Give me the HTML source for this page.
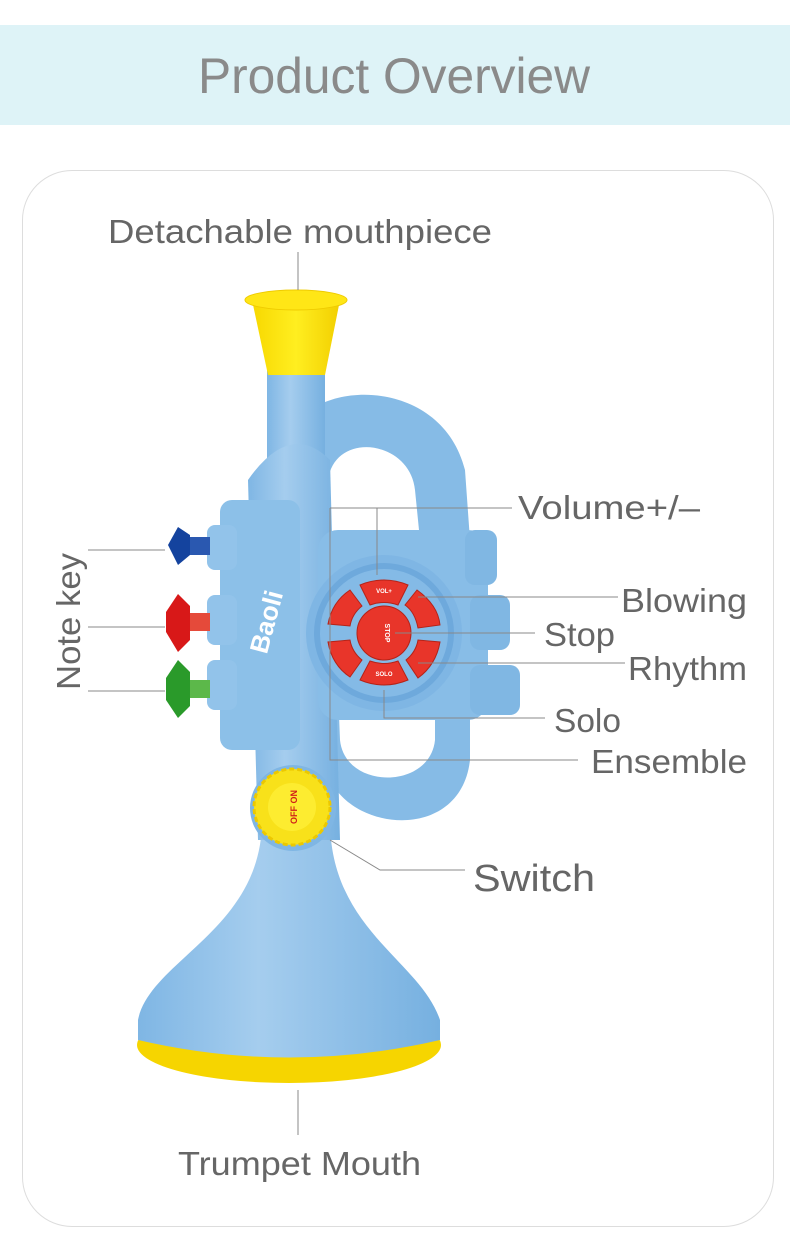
<!DOCTYPE html>
<html><head><meta charset="utf-8"><style>
body{margin:0;width:790px;height:1252px;background:#fff;position:relative;overflow:hidden;font-family:"Liberation Sans",sans-serif;}
.hdr{position:absolute;left:0;top:25px;width:790px;height:100px;background:#def3f7;}
.card{position:absolute;left:22px;top:170px;width:752px;height:1057px;border:1.5px solid #ddd;border-radius:50px;box-sizing:border-box;}
svg{position:absolute;left:0;top:0;}
</style></head><body>
<div class="hdr"></div>
<div class="card"></div>
<svg width="790" height="1252" viewBox="0 0 790 1252" font-family="Liberation Sans, sans-serif">
<defs>
<linearGradient id="bl" x1="0" x2="1"><stop offset="0" stop-color="#7fb6e4"/><stop offset=".4" stop-color="#a5cdee"/><stop offset="1" stop-color="#76b0e0"/></linearGradient>
<linearGradient id="yl" x1="0" x2="1"><stop offset="0" stop-color="#f7d800"/><stop offset=".5" stop-color="#ffee20"/><stop offset="1" stop-color="#f2cf00"/></linearGradient>
</defs>
<text x="198" y="93" font-size="50" fill="#8a8a8a" textLength="392" lengthAdjust="spacingAndGlyphs">Product Overview</text>
<ellipse cx="289" cy="1045" rx="152" ry="38" fill="#f6d500"/>
<path d="M262 820 C262 930 150 960 138 1020 L138 1040 Q289 1075 440 1040 L440 1020 C420 960 330 930 330 820 Z" fill="url(#bl)"/>
<path d="M290 440 C300 380 440 370 465 470 L470 540 L420 540 L415 490 C410 440 335 430 328 480 L325 540 L290 540 Z" fill="#86bbe6"/>
<path d="M320 690 L325 760 C330 830 460 850 470 760 L470 690 L435 690 L435 740 C430 790 345 790 340 740 L338 690 Z" fill="#86bbe6"/>
<rect x="267" y="370" width="58" height="140" fill="url(#bl)"/>
<path d="M248 480 Q290 420 330 460 L340 840 L258 840 Z" fill="url(#bl)"/>
<rect x="220" y="500" width="80" height="250" rx="12" fill="#8cc0e8"/>
<rect x="207" y="525" width="30" height="45" rx="8" fill="#92c3ea"/>
<rect x="207" y="595" width="30" height="50" rx="8" fill="#92c3ea"/>
<rect x="207" y="660" width="30" height="50" rx="8" fill="#92c3ea"/>
<rect x="318" y="530" width="170" height="190" rx="20" fill="#88bde7"/>
<rect x="465" y="530" width="32" height="55" rx="10" fill="#80b7e3"/>
<rect x="470" y="595" width="40" height="55" rx="10" fill="#80b7e3"/>
<rect x="470" y="665" width="50" height="50" rx="10" fill="#80b7e3"/>
<rect x="180" y="537" width="30" height="18" fill="#2a58b0"/>
<path d="M178 527 L168 545 L178 565 L190 555 L190 535 Z" fill="#14439e"/>
<rect x="180" y="613" width="30" height="18" fill="#e54a3a"/>
<path d="M178 594 L166 612 L166 632 L178 652 L190 640 L190 606 Z" fill="#d81818"/>
<rect x="180" y="680" width="30" height="18" fill="#5cb84a"/>
<path d="M178 660 L166 678 L166 700 L178 718 L190 706 L190 672 Z" fill="#2a9a2a"/>
<text x="240" y="660" font-size="26" font-weight="bold" fill="#fff" transform="rotate(-75 250 640)">Baoli</text>
<circle cx="384" cy="633" r="78" fill="#7fb6e4"/>
<circle cx="384" cy="633" r="70" fill="#6ea9dc"/>
<circle cx="384" cy="633" r="64" fill="#84bae6"/>
<g fill="#e8352a" stroke="#b52318" stroke-width="1">
<path d="M360 585 Q384 575 408 585 L398 605 Q384 600 370 605 Z"/>
<path d="M417 590 Q438 605 440 625 L418 628 Q415 612 405 605 Z"/>
<path d="M440 642 Q436 665 418 678 L406 660 Q416 652 418 640 Z"/>
<path d="M360 680 Q384 690 408 680 L398 661 Q384 666 370 661 Z"/>
<path d="M350 677 Q332 665 328 642 L350 640 Q352 652 362 660 Z"/>
<path d="M328 624 Q332 602 350 590 L362 606 Q352 614 350 626 Z"/>
</g>
<circle cx="384" cy="633" r="27" fill="#e8352a" stroke="#b52318"/>
<g fill="#fff" font-size="6" font-weight="bold" text-anchor="middle">
<text x="384" y="593">VOL+</text><text x="384" y="676">SOLO</text>
<text x="386" y="634" transform="rotate(90 386 633)" font-size="7">STOP</text>
</g>
<circle cx="293" cy="808" r="43" fill="#7fb6e4"/>
<circle cx="292" cy="807" r="38" fill="#f8e11a" stroke="#ecc800" stroke-width="3" stroke-dasharray="5 3"/>
<circle cx="292" cy="807" r="24" fill="#fdec30"/>
<text x="292" y="812" font-size="9" font-weight="bold" fill="#d0201a" text-anchor="middle" transform="rotate(-90 292 807)">OFF ON</text>
<path d="M252 300 L268 375 L325 375 L340 300 Z" fill="url(#yl)"/>
<ellipse cx="296" cy="300" rx="51" ry="10" fill="#ffe616" stroke="#efcb00"/>
<g stroke="#888" stroke-width="1" fill="none">
<line x1="298" y1="252" x2="298" y2="290"/>
<line x1="298" y1="1090" x2="298" y2="1135"/>
<line x1="88" y1="550" x2="165" y2="550"/>
<line x1="88" y1="627" x2="165" y2="627"/>
<line x1="88" y1="691" x2="165" y2="691"/>
<polyline points="330,508 330,760 578,760"/>
<polyline points="330,508 512,508"/>
<line x1="377" y1="508" x2="377" y2="575"/>
<line x1="418" y1="597" x2="618" y2="597"/>
<line x1="395" y1="633" x2="535" y2="633"/>
<line x1="418" y1="663" x2="625" y2="663"/>
<polyline points="384,690 384,718 545,718"/>
<polyline points="330,840 380,870 465,870"/>
</g>
<g fill="#666" font-size="33" lengthAdjust="spacingAndGlyphs">
<text x="108" y="243" textLength="384" lengthAdjust="spacingAndGlyphs">Detachable mouthpiece</text>
<text x="518" y="519" textLength="182" lengthAdjust="spacingAndGlyphs">Volume+/–</text>
<text x="621" y="612" textLength="126" lengthAdjust="spacingAndGlyphs">Blowing</text>
<text x="544" y="646" textLength="71" lengthAdjust="spacingAndGlyphs">Stop</text>
<text x="628" y="680" textLength="119" lengthAdjust="spacingAndGlyphs">Rhythm</text>
<text x="554" y="732" textLength="67" lengthAdjust="spacingAndGlyphs">Solo</text>
<text x="591" y="773" textLength="156" lengthAdjust="spacingAndGlyphs">Ensemble</text>
<text x="473" y="891" font-size="38" textLength="122" lengthAdjust="spacingAndGlyphs">Switch</text>
<text x="178" y="1175" textLength="243" lengthAdjust="spacingAndGlyphs">Trumpet Mouth</text>
<text x="80" y="690" transform="rotate(-90 80 690)" textLength="137" lengthAdjust="spacingAndGlyphs">Note key</text>
</g>
</svg>
</body></html>
